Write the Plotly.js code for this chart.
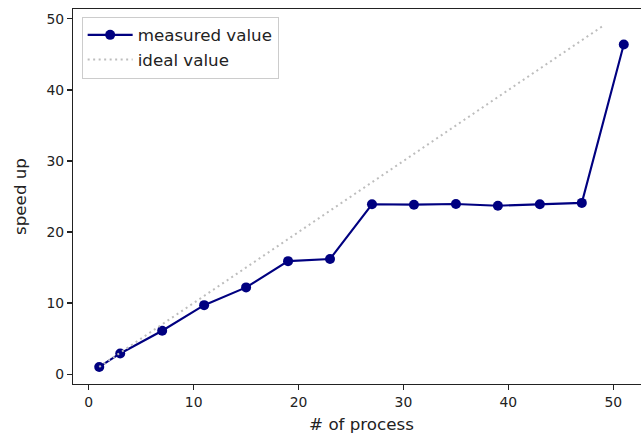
<!DOCTYPE html>
<html>
<head>
<meta charset="utf-8">
<script src="https://cdn.plot.ly/plotly-3.0.1.min.js"></script>
<style>
  html, body { margin: 0; padding: 0; overflow: hidden; background: #fff; }
  #chart { width: 660px; height: 440px; }
</style>
</head>
<body>
<div id="chart"></div>
<script>
// number of processes and measured speed-up
const processes = [1, 3, 7, 11, 15, 19, 23, 27, 31, 35, 39, 43, 47, 51];
const speedup   = [1.0, 2.9, 6.1, 9.7, 12.2, 15.9, 16.2, 23.9, 23.85, 23.95, 23.7, 23.9, 24.1, 46.4];

// ideal linear speed-up
const idealX = [1, 49];
const idealY = [1, 49];

const FONT = 'DejaVu Sans, sans-serif';
const TICK_SIZE = 13.9;
const LABEL_SIZE = 16.7;

const traces = [
  {
    x: processes, y: speedup,
    name: 'measured value',
    mode: 'lines+markers',
    line: { color: '#000080', width: 2.1 },
    marker: { color: '#000080', size: 10 }
  },
  {
    x: idealX, y: idealY,
    name: 'ideal value',
    mode: 'lines',
    line: { color: '#bdbdbd', width: 2, dash: '2px,3.5px' }
  }
];

const axisCommon = {
  showgrid: false,
  zeroline: false,
  showline: true,
  mirror: true,
  linecolor: '#222',
  linewidth: 1.1,
  ticks: 'outside',
  ticklen: 5,
  tickwidth: 1.1,
  tickcolor: '#222',
  tickfont: { family: FONT, size: TICK_SIZE, color: '#222' }
};

const layout = {
  width: 660, height: 440,
  margin: { l: 73, r: 10, t: 9, b: 56 },
  paper_bgcolor: '#fff',
  plot_bgcolor: '#fff',
  showlegend: true,
  legend: {
    x: 0.015, y: 0.98, xanchor: 'left', yanchor: 'top',
    bgcolor: 'rgba(255,255,255,0.8)',
    bordercolor: '#cccccc', borderwidth: 1,
    itemwidth: 45,
    font: { family: FONT, size: LABEL_SIZE, color: '#222' },
    tracegroupgap: 0
  },
  xaxis: Object.assign({}, axisCommon, {
    range: [-1.5, 53.5],
    tickvals: [0, 10, 20, 30, 40, 50],
    title: { text: '# of process', font: { family: FONT, size: LABEL_SIZE, color: '#222' }, standoff: 9 }
  }),
  yaxis: Object.assign({}, axisCommon, {
    range: [-1.4, 51.4],
    tickvals: [0, 10, 20, 30, 40, 50],
    title: { text: 'speed up', font: { family: FONT, size: LABEL_SIZE, color: '#222' }, standoff: 15 }
  })
};

Plotly.newPlot('chart', traces, layout, { displayModeBar: false, staticPlot: true });
</script>
</body>
</html>
